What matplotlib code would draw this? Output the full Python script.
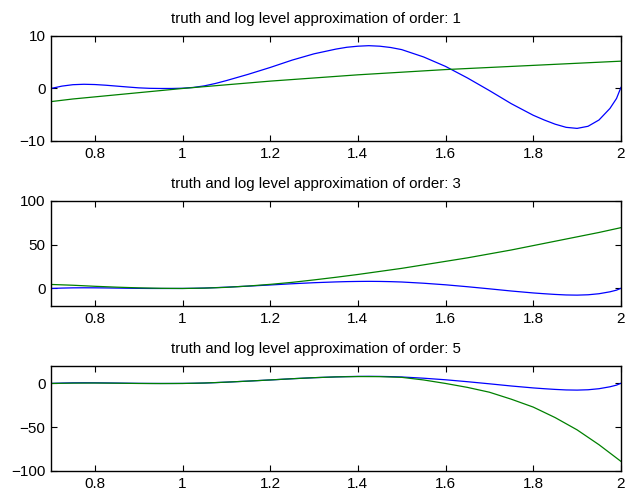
import matplotlib
matplotlib.use("Agg")
import matplotlib.pyplot as plt

plt.rcParams['font.family'] = ['Liberation Sans', 'DejaVu Sans']

# truth curve (same in all three panels)
x_truth = [0.70, 0.725, 0.75, 0.775, 0.80, 0.825, 0.85, 0.875, 0.90, 0.925, 0.95, 0.975,
           1.00, 1.025, 1.05, 1.075, 1.10, 1.15, 1.20, 1.25, 1.30, 1.35, 1.375, 1.40,
           1.425, 1.45, 1.475, 1.50, 1.55, 1.60, 1.65, 1.70, 1.75, 1.80, 1.825, 1.85,
           1.875, 1.90, 1.925, 1.95, 1.975, 1.99, 2.00]
y_truth = [0.0, 0.45, 0.72, 0.8, 0.75, 0.62, 0.45, 0.28, 0.12, 0.03, 0.0, 0.0,
           0.05, 0.2, 0.5, 0.95, 1.5, 2.7, 4.0, 5.4, 6.6, 7.5, 7.85, 8.05,
           8.15, 8.05, 7.8, 7.4, 6.0, 4.2, 2.0, -0.4, -2.9, -5.1, -6.0, -6.8,
           -7.4, -7.6, -7.2, -6.0, -3.8, -1.9, 0.2]

# approximations
x_approx = [0.70, 0.75, 0.80, 0.85, 0.90, 0.95, 1.00, 1.05, 1.10, 1.15, 1.20, 1.25, 1.30,
            1.35, 1.40, 1.45, 1.50, 1.55, 1.60, 1.65, 1.70, 1.75, 1.80, 1.85, 1.90, 1.95, 2.00]
y_order1 = [-2.5, -2.0, -1.6, -1.2, -0.8, -0.4, 0.0, 0.35, 0.7, 1.05, 1.4, 1.7, 2.0,
            2.3, 2.6, 2.85, 3.1, 3.35, 3.6, 3.8, 4.0, 4.2, 4.4, 4.6, 4.8, 5.0, 5.2]
y_order3 = [4.6, 3.7, 2.5, 1.5, 0.7, 0.2, 0.0, 0.4, 1.3, 2.8, 4.7, 7.0, 9.8,
            12.8, 16.0, 19.5, 23.0, 27.0, 31.0, 35.0, 39.5, 44.0, 49.0, 54.0, 59.0, 64.0, 69.5]
y_order5 = [0.0, 0.4, 0.5, 0.3, 0.0, -0.1, 0.0, 0.5, 1.5, 2.7, 4.0, 5.4, 6.6,
            7.5, 7.9, 7.8, 7.0, 4.0, 0.0, -4.5, -10.0, -18.0, -27.0, -39.0, -53.0, -70.0, -89.0]

orders = [1, 3, 5]
approx = [y_order1, y_order3, y_order5]
ylims = [(-10, 10), (-20, 100), (-100, 20)]
yticks = [[-10, 0, 10], [0, 50, 100], [-100, -50, 0]]
xticks = [0.8, 1.0, 1.2, 1.4, 1.6, 1.8, 2.0]
xlabels = ["0.8", "1", "1.2", "1.4", "1.6", "1.8", "2"]

fig = plt.figure(figsize=(6.27, 4.94), dpi=100)
bottoms = [0.7146, 0.3806, 0.0466]

for i in range(3):
    ax = fig.add_axes([0.0813, bottoms[i], 0.909, 0.2126])
    ax.plot(x_truth, y_truth, color="#0000ff", lw=0.9)
    ax.plot(x_approx, approx[i], color="#008000", lw=0.9)
    ax.set_xlim(0.7, 2.0)
    ax.set_ylim(*ylims[i])
    ax.set_xticks(xticks)
    ax.set_xticklabels(xlabels)
    ax.set_yticks(yticks[i])
    ax.tick_params(direction="in", top=True, right=True, length=4, width=0.8,
                   labelsize=11, pad=4)
    for s in ax.spines.values():
        s.set_linewidth(1.0)
    ax.set_title("truth and log level approximation of order: %d" % orders[i],
                 fontsize=10.8, pad=9, x=0.465)

plt.savefig("out.png", dpi=100)
